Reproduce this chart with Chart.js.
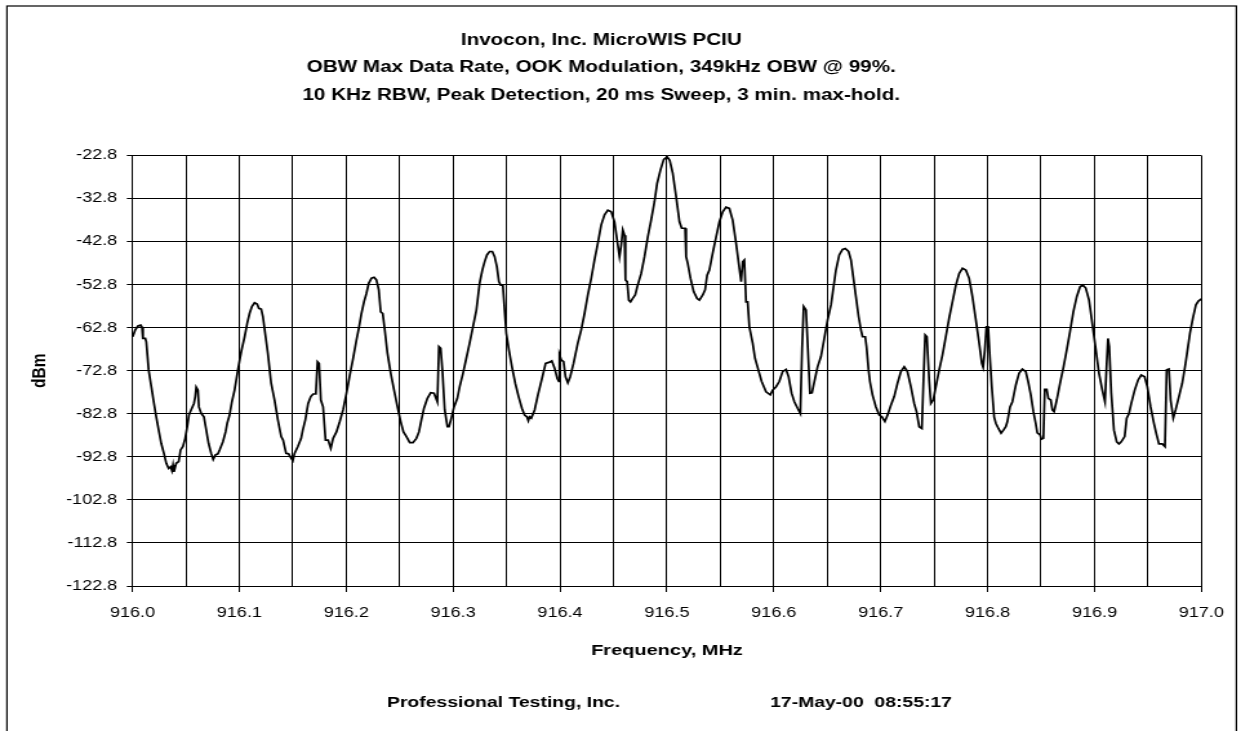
<!DOCTYPE html>
<html>
<head>
<meta charset="utf-8">
<title>OBW Max Data Rate</title>
<script src="https://cdn.jsdelivr.net/npm/chart.js@4.4.1/dist/chart.umd.min.js"></script>
<style>
  html, body { margin: 0; padding: 0; background: #fff; overflow: hidden; }
</style>
</head>
<body>
<!-- the source plot was rendered narrow and stretched sideways; do the same -->
<canvas id="spectrum" width="962" height="731" style="display:block;width:1241px;height:731px"></canvas>
<script>
// ---------------------------------------------------------------------------
// Data
// ---------------------------------------------------------------------------

var titleLines = [
  'Invocon, Inc. MicroWIS PCIU',
  'OBW Max Data Rate, OOK Modulation, 349kHz OBW @ 99%.',
  '10 KHz RBW, Peak Detection, 20 ms Sweep, 3 min. max-hold.'
];
var footerLeft = 'Professional Testing, Inc.';
var footerRight = '17-May-00  08:55:17';

var freqMin = 916.0;
var freqMax = 917.0;
var freqGridStep = 0.05;
var levelMin = -122.8;
var levelMax = -22.8;
var levelStep = 10;

var freqMHz = [
  916.0002, 916.0026, 916.0051, 916.0077, 916.0089, 916.0098, 916.0120, 916.0129, 916.0151, 916.0176,
  916.0201, 916.0222, 916.0245, 916.0269, 916.0294, 916.0316, 916.0338, 916.0357, 916.0369, 916.0379,
  916.0388, 916.0409, 916.0432, 916.0450, 916.0472, 916.0493, 916.0512, 916.0528, 916.0550, 916.0575,
  916.0587, 916.0596, 916.0612, 916.0621, 916.0643, 916.0668, 916.0690, 916.0712, 916.0736, 916.0755,
  916.0774, 916.0799, 916.0815, 916.0846, 916.0871, 916.0886, 916.0908, 916.0930, 916.0955, 916.0986,
  916.1017, 916.1049, 916.1073, 916.1095, 916.1117, 916.1142, 916.1166, 916.1182, 916.1204, 916.1220,
  916.1241, 916.1266, 916.1297, 916.1329, 916.1360, 916.1391, 916.1409, 916.1437, 916.1460, 916.1484,
  916.1500, 916.1516, 916.1547, 916.1578, 916.1593, 916.1617, 916.1643, 916.1668, 916.1690, 916.1715,
  916.1731, 916.1746, 916.1762, 916.1783, 916.1806, 916.1830, 916.1855, 916.1877, 916.1908, 916.1939,
  916.1970, 916.2002, 916.2033, 916.2064, 916.2095, 916.2120, 916.2142, 916.2166, 916.2189, 916.2210,
  916.2236, 916.2260, 916.2282, 916.2304, 916.2322, 916.2341, 916.2360, 916.2385, 916.2416, 916.2447,
  916.2479, 916.2509, 916.2535, 916.2563, 916.2594, 916.2624, 916.2656, 916.2680, 916.2703, 916.2727,
  916.2759, 916.2790, 916.2821, 916.2852, 916.2867, 916.2883, 916.2899, 916.2921, 916.2946, 916.2961,
  916.2983, 916.3008, 916.3039, 916.3061, 916.3092, 916.3123, 916.3154, 916.3185, 916.3217, 916.3248,
  916.3273, 916.3294, 916.3316, 916.3341, 916.3366, 916.3388, 916.3409, 916.3428, 916.3444, 916.3465,
  916.3481, 916.3497, 916.3522, 916.3550, 916.3581, 916.3612, 916.3643, 916.3668, 916.3690, 916.3703,
  916.3715, 916.3731, 916.3762, 916.3793, 916.3824, 916.3865, 916.3902, 916.3923, 916.3949, 916.3974,
  916.3989, 916.3995, 916.4011, 916.4033, 916.4051, 916.4073, 916.4095, 916.4126, 916.4166, 916.4198,
  916.4229, 916.4260, 916.4292, 916.4322, 916.4353, 916.4385, 916.4416, 916.4447, 916.4479, 916.4509,
  916.4531, 916.4556, 916.4572, 916.4587, 916.4603, 916.4612, 916.4628, 916.4643, 916.4659, 916.4680,
  916.4703, 916.4722, 916.4759, 916.4790, 916.4821, 916.4852, 916.4883, 916.4908, 916.4939, 916.4970,
  916.5002, 916.5026, 916.5054, 916.5086, 916.5117, 916.5138, 916.5170, 916.5179, 916.5194, 916.5220,
  916.5250, 916.5282, 916.5304, 916.5335, 916.5357, 916.5376, 916.5397, 916.5428, 916.5460, 916.5491,
  916.5522, 916.5553, 916.5584, 916.5615, 916.5647, 916.5671, 916.5694, 916.5709, 916.5724, 916.5740,
  916.5755, 916.5771, 916.5802, 916.5824, 916.5855, 916.5886, 916.5927, 916.5967, 916.5989, 916.6021,
  916.6051, 916.6082, 916.6114, 916.6138, 916.6166, 916.6192, 916.6222, 916.6248, 916.6264, 916.6279,
  916.6301, 916.6316, 916.6338, 916.6357, 916.6379, 916.6409, 916.6441, 916.6472, 916.6503, 916.6535,
  916.6581, 916.6612, 916.6643, 916.6668, 916.6699, 916.6722, 916.6743, 916.6768, 916.6793, 916.6815,
  916.6830, 916.6855, 916.6867, 916.6886, 916.6899, 916.6923, 916.6955, 916.6986, 916.7011, 916.7039,
  916.7064, 916.7095, 916.7126, 916.7157, 916.7189, 916.7220, 916.7250, 916.7282, 916.7313, 916.7335,
  916.7360, 916.7385, 916.7400, 916.7416, 916.7432, 916.7453, 916.7469, 916.7491, 916.7516, 916.7547,
  916.7578, 916.7609, 916.7640, 916.7671, 916.7703, 916.7734, 916.7765, 916.7796, 916.7827, 916.7858,
  916.7890, 916.7921, 916.7946, 916.7958, 916.7974, 916.7989, 916.8005, 916.8021, 916.8039, 916.8061,
  916.8077, 916.8101, 916.8126, 916.8148, 916.8170, 916.8185, 916.8210, 916.8232, 916.8264, 916.8294,
  916.8325, 916.8357, 916.8379, 916.8404, 916.8428, 916.8450, 916.8465, 916.8491, 916.8503, 916.8522,
  916.8535, 916.8553, 916.8568, 916.8591, 916.8606, 916.8622, 916.8647, 916.8678, 916.8708, 916.8740,
  916.8771, 916.8802, 916.8834, 916.8865, 916.8890, 916.8918, 916.8949, 916.8979, 916.9011, 916.9042,
  916.9073, 916.9098, 916.9114, 916.9126, 916.9138, 916.9157, 916.9182, 916.9208, 916.9229, 916.9250,
  916.9282, 916.9301, 916.9322, 916.9344, 916.9376, 916.9407, 916.9437, 916.9469, 916.9494, 916.9525,
  916.9556, 916.9581, 916.9603, 916.9634, 916.9659, 916.9675, 916.9696, 916.9712, 916.9737, 916.9759,
  916.9790, 916.9821, 916.9852, 916.9893, 916.9921, 916.9949, 916.9972, 917.0000
];

var levelDbm = [
  -64.9, -63.3, -62.4, -62.2, -62.7, -65.3, -65.3, -66.1, -72.6, -76.5,
  -80.4, -83.5, -86.6, -89.7, -92.0, -94.3, -95.5, -95.1, -96.0, -94.7,
  -96.3, -94.3, -93.9, -91.2, -90.4, -88.5, -85.8, -83.1, -81.8, -80.4,
  -78.8, -76.6, -77.3, -81.2, -82.7, -83.5, -86.6, -89.7, -92.0, -93.4,
  -92.4, -92.1, -91.2, -89.3, -87.0, -85.0, -83.1, -80.0, -77.3, -72.6,
  -68.4, -64.9, -61.8, -59.5, -57.9, -57.0, -57.3, -58.3, -58.5, -60.2,
  -64.1, -68.7, -75.7, -79.6, -84.2, -88.1, -88.9, -92.0, -92.1, -93.1,
  -93.7, -92.0, -90.4, -88.5, -86.6, -84.2, -80.4, -78.8, -78.2, -78.2,
  -70.7, -71.1, -79.6, -81.2, -88.9, -88.9, -90.8, -88.5, -87.0, -84.6,
  -81.9, -78.0, -73.8, -69.9, -65.7, -62.6, -59.5, -56.8, -54.8, -52.5,
  -51.3, -51.1, -51.7, -54.0, -59.1, -59.5, -63.3, -68.7, -73.4, -77.3,
  -81.2, -84.6, -87.0, -88.1, -89.5, -89.5, -88.5, -87.0, -84.2, -81.5,
  -79.2, -77.9, -78.0, -80.0, -67.2, -67.6, -72.6, -81.9, -85.8, -85.8,
  -83.8, -81.2, -79.2, -76.5, -73.4, -69.9, -66.4, -62.6, -58.7, -52.4,
  -49.4, -47.5, -45.9, -45.1, -45.1, -46.3, -48.6, -52.1, -52.9, -52.9,
  -58.7, -64.1, -68.0, -71.9, -75.7, -78.8, -81.5, -83.1, -83.5, -84.4,
  -83.5, -83.8, -81.9, -78.4, -75.3, -71.1, -70.8, -70.5, -72.2, -74.6,
  -75.3, -69.1, -70.3, -70.7, -74.2, -75.6, -74.2, -71.1, -66.4, -63.3,
  -59.5, -55.2, -51.3, -47.1, -43.2, -38.9, -36.6, -35.5, -35.9, -38.2,
  -42.0, -46.3, -43.6, -40.1, -41.3, -51.7, -52.1, -56.4, -56.8, -56.0,
  -55.2, -53.3, -50.2, -46.3, -41.7, -37.8, -33.6, -29.3, -26.2, -23.7,
  -23.1, -23.9, -26.9, -32.4, -38.2, -39.7, -39.7, -46.3, -47.8, -51.3,
  -54.4, -56.0, -56.4, -55.2, -54.0, -50.6, -49.4, -45.5, -41.7, -38.2,
  -35.9, -34.8, -35.1, -37.8, -43.2, -47.8, -52.1, -47.5, -47.1, -56.8,
  -56.8, -62.6, -66.4, -69.9, -72.6, -75.3, -77.7, -78.4, -77.3, -76.5,
  -75.3, -73.0, -72.5, -74.2, -78.0, -80.0, -81.5, -82.7, -67.6, -57.9,
  -58.7, -66.4, -78.0, -77.9, -75.3, -71.9, -69.5, -65.3, -61.0, -57.5,
  -49.4, -45.9, -44.6, -44.4, -45.1, -47.1, -51.0, -55.6, -60.2, -63.3,
  -64.9, -64.9, -67.2, -72.6, -75.3, -78.4, -81.2, -83.1, -83.5, -84.6,
  -83.1, -80.8, -78.8, -75.7, -73.0, -71.9, -73.0, -76.5, -80.4, -82.3,
  -85.8, -86.2, -75.0, -64.5, -64.9, -75.0, -80.4, -79.6, -76.5, -72.6,
  -69.1, -64.9, -60.6, -56.8, -52.9, -50.2, -49.0, -49.4, -51.3, -55.6,
  -61.0, -66.4, -71.1, -72.0, -68.0, -62.6, -62.6, -69.5, -76.5, -83.5,
  -85.0, -86.2, -87.3, -86.6, -85.8, -84.6, -81.2, -80.0, -76.1, -73.4,
  -72.4, -73.0, -75.3, -78.4, -82.3, -85.0, -87.2, -87.7, -88.7, -88.5,
  -77.1, -77.1, -79.2, -79.6, -81.9, -82.3, -79.6, -75.7, -72.2, -68.0,
  -63.7, -59.1, -55.6, -53.3, -52.9, -53.6, -56.4, -61.8, -67.6, -73.4,
  -77.3, -80.0, -71.1, -65.3, -67.2, -78.0, -86.6, -89.3, -89.8, -89.3,
  -88.1, -83.8, -82.8, -80.4, -77.3, -75.0, -73.8, -74.2, -76.5, -81.2,
  -85.0, -87.7, -89.8, -89.8, -90.4, -72.6, -72.4, -79.6, -83.8, -81.9,
  -78.8, -75.7, -71.1, -64.1, -60.5, -57.5, -56.6, -56.1
];

// ---------------------------------------------------------------------------
// Chart
// ---------------------------------------------------------------------------

var FONT = '"Liberation Sans", Arial, Helvetica, sans-serif';

var points = freqMHz.map(function (f, i) {
  return { x: f, y: levelDbm[i] };
});

// white page, outer frame and the footer line under the plot
var pagePlugin = {
  id: 'page',
  beforeDraw: function (chart) {
    var ctx = chart.ctx;
    ctx.save();
    ctx.fillStyle = '#fff';
    ctx.fillRect(0, 0, chart.width, chart.height);
    ctx.strokeStyle = '#000';
    ctx.lineWidth = 1.2;
    ctx.strokeRect(5.4, 6, 953, chart.height + 10);
    ctx.restore();
  },
  afterDraw: function (chart) {
    var ctx = chart.ctx;
    ctx.save();
    ctx.fillStyle = '#000';
    ctx.font = 'bold 15px ' + FONT;
    ctx.textBaseline = 'middle';
    ctx.textAlign = 'left';
    ctx.fillText(footerLeft, 300, 703);
    ctx.fillText(footerRight, 597, 703);
    ctx.restore();
  }
};

new Chart(document.getElementById('spectrum'), {
  type: 'line',
  data: {
    datasets: [
      {
        data: points,
        borderColor: '#000',
        borderWidth: 1.7,
        pointRadius: 0,
        tension: 0,
        fill: false
      }
    ]
  },
  options: {
    responsive: false,
    animation: false,
    devicePixelRatio: 1,
    layout: { padding: { left: 0, right: 29.8, top: 0, bottom: 0 } },
    plugins: {
      legend: { display: false },
      tooltip: { enabled: false },
      title: {
        display: true,
        text: titleLines,
        color: '#000',
        font: { family: FONT, size: 16, weight: 'bold', lineHeight: '27.5px' },
        padding: { top: 26.75, bottom: 46.25 }
      }
    },
    scales: {
      x: {
        type: 'linear',
        min: freqMin,
        max: freqMax,
        afterFit: function (scale) { scale.height = 145; },
        ticks: {
          stepSize: freqGridStep,
          autoSkip: false,
          maxRotation: 0,
          minRotation: 0,
          padding: 13.2,
          color: '#000',
          font: { family: FONT, size: 14 },
          callback: function (value) {
            // label every 0.1 MHz, grid every 0.05 MHz
            return Math.round(value * 20) % 2 === 0 ? value.toFixed(1) : '';
          }
        },
        grid: {
          color: '#000',
          lineWidth: 1,
          tickLength: 6,
          tickColor: function (ctx) {
            return ctx.index % 2 === 0 ? '#000' : 'rgba(0,0,0,0)';
          }
        },
        border: { display: true, color: '#000', width: 1 },
        title: {
          display: true,
          text: 'Frequency, MHz',
          color: '#000',
          font: { family: FONT, size: 15.5, weight: 'bold' },
          padding: { top: 0, bottom: 70.7 }
        }
      },
      y: {
        type: 'linear',
        min: levelMin,
        max: levelMax,
        afterFit: function (scale) { scale.width = 102.7; },
        ticks: {
          stepSize: levelStep,
          padding: 7.4,
          color: '#000',
          font: { family: FONT, size: 14 },
          callback: function (value) { return value.toFixed(1); }
        },
        grid: {
          color: '#000',
          lineWidth: 1,
          tickLength: 4.4,
          tickColor: '#000'
        },
        border: { display: true, color: '#000', width: 1 },
        title: {
          display: true,
          text: 'dBm',
          color: '#000',
          font: { family: FONT, size: 15.5, weight: 'bold' },
          padding: { top: 21.7, bottom: 0 }
        }
      }
    }
  },
  plugins: [pagePlugin]
});
</script>
</body>
</html>
